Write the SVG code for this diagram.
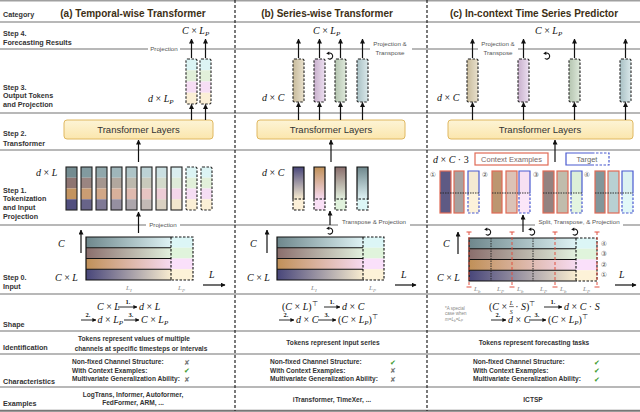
<svg xmlns="http://www.w3.org/2000/svg" xmlns:xlink="http://www.w3.org/1999/xlink" width="640" height="412" viewBox="0 0 640 412">
<defs>
<style>
.hl{stroke:#a0a0a0;stroke-width:1.5}
.vd{stroke:#222;stroke-width:1.2;stroke-dasharray:3 2}
.lab{font-family:"Liberation Sans",Arial,sans-serif;font-weight:bold;font-size:7.2px;fill:#333}
.hdr{font-family:"Liberation Sans",Arial,sans-serif;font-weight:bold;font-size:10px;fill:#3d2f15}
.m{font-family:"Liberation Serif","Times New Roman",serif;font-style:italic;font-size:10px;fill:#111}
.n{font-style:normal}
.sub{font-size:7px}
.sm{font-family:"Liberation Sans",Arial,sans-serif;font-size:6.2px;fill:#555}
.tl{font-family:"Liberation Sans",Arial,sans-serif;font-size:9.5px;fill:#333}
.b{font-family:"Liberation Sans",Arial,sans-serif;font-weight:bold;font-size:6.6px;fill:#333}
.num{font-family:"Liberation Serif",serif;font-weight:bold;font-size:6.5px;fill:#111}
.arr{stroke:#111;stroke-width:1.2;fill:none;marker-end:url(#ah)}
.arr2{stroke:#111;stroke-width:0.9;fill:none;marker-end:url(#ah2)}
.tf{fill:url(#gT);stroke:#e0b860;stroke-width:1}
.tok{stroke:#222;stroke-width:1.1;fill:none}
.dtok{stroke:#222;stroke-width:1.1;fill:none;stroke-dasharray:2.5 1.5}
.red{stroke:#e06a55;stroke-width:1.2;fill:none}
.blu{stroke:#4a5ad0;stroke-width:1.2;fill:none}
.bluD{stroke:#4a5ad0;stroke-width:1.2;fill:none;stroke-dasharray:2.5 1.5}
.dot{stroke:#222;stroke-width:0.9;stroke-dasharray:1.5 1}
.rdl{stroke:#e05040;stroke-width:1;stroke-dasharray:3 2}
.rt{stroke:#e05040;stroke-width:1}
.ck{font-family:"DejaVu Sans",sans-serif;font-size:7px;fill:#3a9a2a}
.cx{font-family:"DejaVu Sans",sans-serif;font-size:7px;fill:#777}
.cn{font-family:"DejaVu Sans","Noto Sans CJK SC",sans-serif;font-size:7px;fill:#555}
.gl{font-family:"Liberation Serif",serif;font-style:italic;font-size:7px;fill:#888}
</style>
<marker id="ah" viewBox="0 0 10 10" refX="9" refY="5" markerWidth="5" markerHeight="5" orient="auto" markerUnits="userSpaceOnUse"><path d="M0,0 L10,5 L0,10 z" fill="#111"/></marker>
<marker id="ah2" viewBox="0 0 10 10" refX="9" refY="5" markerWidth="4" markerHeight="4" orient="auto" markerUnits="userSpaceOnUse"><path d="M0,0 L10,5 L0,10 z" fill="#111"/></marker>
<linearGradient id="gT" x1="0" y1="0" x2="0" y2="1"><stop offset="0" stop-color="#fdf4d6"/><stop offset="1" stop-color="#fbe6ad"/></linearGradient>
<linearGradient id="gA" x1="0" y1="0" x2="1" y2="0"><stop offset="0" stop-color="#6e878c"/><stop offset="1" stop-color="#def2f4"/></linearGradient>
<linearGradient id="gB" x1="0" y1="0" x2="1" y2="0"><stop offset="0" stop-color="#8a6e6c"/><stop offset="1" stop-color="#e2f0de"/></linearGradient>
<linearGradient id="gC" x1="0" y1="0" x2="1" y2="0"><stop offset="0" stop-color="#c09058"/><stop offset="1" stop-color="#f6daf0"/></linearGradient>
<linearGradient id="gD" x1="0" y1="0" x2="1" y2="0"><stop offset="0" stop-color="#48467a"/><stop offset="1" stop-color="#f8ecd0"/></linearGradient>
<linearGradient id="vA" x1="0" y1="0" x2="0" y2="1"><stop offset="0" stop-color="#6e878c"/><stop offset="1" stop-color="#def2f4"/></linearGradient>
<linearGradient id="vB" x1="0" y1="0" x2="0" y2="1"><stop offset="0" stop-color="#8a6e6c"/><stop offset="1" stop-color="#e2f0de"/></linearGradient>
<linearGradient id="vC" x1="0" y1="0" x2="0" y2="1"><stop offset="0" stop-color="#c09058"/><stop offset="1" stop-color="#f6daf0"/></linearGradient>
<linearGradient id="vD" x1="0" y1="0" x2="0" y2="1"><stop offset="0" stop-color="#48467a"/><stop offset="1" stop-color="#f8ecd0"/></linearGradient>
<linearGradient id="o1" x1="0" y1="0" x2="1" y2="0"><stop offset="0" stop-color="#c8bb9c"/><stop offset="1" stop-color="#e8e0cc"/></linearGradient>
<linearGradient id="o2" x1="0" y1="0" x2="1" y2="0"><stop offset="0" stop-color="#c8b0cc"/><stop offset="1" stop-color="#ecdff0"/></linearGradient>
<linearGradient id="o3" x1="0" y1="0" x2="1" y2="0"><stop offset="0" stop-color="#b4c4b0"/><stop offset="1" stop-color="#dde8da"/></linearGradient>
<linearGradient id="o4" x1="0" y1="0" x2="1" y2="0"><stop offset="0" stop-color="#a8c0c4"/><stop offset="1" stop-color="#dae8ea"/></linearGradient>
<g id="rot"><path d="M-1.2,-2.8 A3,3 0 1 1 -2.2,2.4" fill="none" stroke="#111" stroke-width="1.1"/><path d="M-3.8,-2.6 L-0.8,-4.6 L-0.6,-1 z" fill="#111"/></g>
</defs>
<rect width="640" height="412" fill="#fff"/>

<g id="grid">
<line class="hl" x1="0" y1="0.8" x2="640" y2="0.8"/>
<line class="hl" x1="0" y1="22" x2="640" y2="22"/>
<line class="hl" x1="0" y1="49" x2="640" y2="49"/>
<line class="hl" x1="0" y1="113" x2="640" y2="113"/>
<line class="hl" x1="0" y1="150" x2="640" y2="150"/>
<line class="hl" x1="0" y1="225" x2="640" y2="225"/>
<line class="hl" x1="0" y1="294" x2="640" y2="294"/>
<line class="hl" x1="0" y1="331" x2="640" y2="331"/>
<line class="hl" x1="0" y1="354" x2="640" y2="354"/>
<line class="hl" x1="0" y1="387" x2="640" y2="387"/>
<line x1="0" y1="410.8" x2="640" y2="410.8" stroke="#777" stroke-width="2"/>
<line class="vd" x1="235" y1="0" x2="235" y2="411"/>
<line class="vd" x1="427" y1="0" x2="427" y2="411"/>
</g>

<g id="rowlabels">
<text class="lab" x="3" y="16.5">Category</text>
<text class="lab" x="3" y="35.5">Step 4.</text>
<text class="lab" x="3" y="44.5">Forecasting Results</text>
<text class="lab" x="3" y="89.5">Step 3.</text>
<text class="lab" x="3" y="98">Output Tokens</text>
<text class="lab" x="3" y="107">and Projection</text>
<text class="lab" x="3" y="135.5">Step 2.</text>
<text class="lab" x="3" y="145.5">Transformer</text>
<text class="lab" x="3" y="192.5">Step 1.</text>
<text class="lab" x="3" y="201">Tokenization</text>
<text class="lab" x="3" y="210">and Input</text>
<text class="lab" x="3" y="219">Projection</text>
<text class="lab" x="3" y="279.5">Step 0.</text>
<text class="lab" x="3" y="288.5">Input</text>
<text class="lab" x="3" y="326.5">Shape</text>
<text class="lab" x="3" y="349.5">Identification</text>
<text class="lab" x="3" y="383.5">Characteristics</text>
<text class="lab" x="3" y="405.5">Examples</text>
</g>

<g id="headers">
<text class="hdr" x="133" y="16.5" text-anchor="middle">(a) Temporal-wise Transformer</text>
<text class="hdr" x="327" y="16.5" text-anchor="middle">(b) Series-wise Transformer</text>
<text class="hdr" x="534" y="16.5" text-anchor="middle">(c) In-context Time Series Predictor</text>
</g>

<!-- Panel A -->
<g id="a-step4">
<text class="m" x="182" y="33.5">C <tspan class="n">×</tspan> L<tspan class="sub" dy="2">P</tspan></text>
<rect x="148" y="44" width="32" height="9" fill="#fff"/>
<text class="sm" x="164" y="50.5" text-anchor="middle">Projection</text>
</g>
<g id="a-step3">
<rect x="186" y="59" width="11" height="11.25" fill="#dcf4f4"/><rect x="186" y="70.25" width="11" height="11.25" fill="#e2f0da"/><rect x="186" y="81.5" width="11" height="11.25" fill="#f6def4"/><rect x="186" y="92.75" width="11" height="11.25" fill="#fbefd6"/>
<rect class="dtok" x="186" y="59" width="11" height="45" rx="1.5"/>
<rect x="200" y="59" width="11" height="11.25" fill="#dcf4f4"/><rect x="200" y="70.25" width="11" height="11.25" fill="#e2f0da"/><rect x="200" y="81.5" width="11" height="11.25" fill="#f6def4"/><rect x="200" y="92.75" width="11" height="11.25" fill="#fbefd6"/>
<rect class="dtok" x="200" y="59" width="11" height="45" rx="1.5"/>
<text class="m" x="148" y="101.5">d <tspan class="n">×</tspan> L<tspan class="sub" dy="2">P</tspan></text>
</g>
<g id="a-transformer">
<rect class="tf" x="64" y="120" width="149" height="19" rx="3"/>
<text class="tl" x="138.5" y="133" text-anchor="middle">Transformer Layers</text>
</g>
<g id="a-step1">
<text class="m" x="36" y="176">d <tspan class="n">×</tspan> L</text>
<rect x="66" y="167" width="11" height="10.75" fill="#748c91"/><rect x="66" y="177.75" width="11" height="10.75" fill="#8e7572"/><rect x="66" y="188.5" width="11" height="10.75" fill="#c39460"/><rect x="66" y="199.25" width="11" height="10.75" fill="#514e7e"/>
<rect x="81" y="167" width="11" height="10.75" fill="#829a9f"/><rect x="81" y="177.75" width="11" height="10.75" fill="#9a8581"/><rect x="81" y="188.5" width="11" height="10.75" fill="#ca9d73"/><rect x="81" y="199.25" width="11" height="10.75" fill="#686489"/>
<rect x="96" y="167" width="11" height="10.75" fill="#91a8ac"/><rect x="96" y="177.75" width="11" height="10.75" fill="#a5968f"/><rect x="96" y="188.5" width="11" height="10.75" fill="#d1a787"/><rect x="96" y="199.25" width="11" height="10.75" fill="#7f7995"/>
<rect x="111" y="167" width="11" height="10.75" fill="#9fb6ba"/><rect x="111" y="177.75" width="11" height="10.75" fill="#b1a79e"/><rect x="111" y="188.5" width="11" height="10.75" fill="#d8b19b"/><rect x="111" y="199.25" width="11" height="10.75" fill="#958fa0"/>
<rect x="126" y="167" width="11" height="10.75" fill="#aec4c7"/><rect x="126" y="177.75" width="11" height="10.75" fill="#bcb8ad"/><rect x="126" y="188.5" width="11" height="10.75" fill="#dfbaaf"/><rect x="126" y="199.25" width="11" height="10.75" fill="#aca5ab"/>
<rect x="141" y="167" width="11" height="10.75" fill="#bcd2d5"/><rect x="141" y="177.75" width="11" height="10.75" fill="#c8c9bc"/><rect x="141" y="188.5" width="11" height="10.75" fill="#e6c4c2"/><rect x="141" y="199.25" width="11" height="10.75" fill="#c3bab6"/>
<rect x="156" y="167" width="11" height="10.75" fill="#cbe0e2"/><rect x="156" y="177.75" width="11" height="10.75" fill="#d3dacb"/><rect x="156" y="188.5" width="11" height="10.75" fill="#edcdd6"/><rect x="156" y="199.25" width="11" height="10.75" fill="#dad0c1"/>
<rect x="171" y="167" width="11" height="10.75" fill="#daeef0"/><rect x="171" y="177.75" width="11" height="10.75" fill="#deebd9"/><rect x="171" y="188.5" width="11" height="10.75" fill="#f4d7ea"/><rect x="171" y="199.25" width="11" height="10.75" fill="#f1e5cd"/>
<rect class="tok" x="66" y="167" width="11" height="43"/><rect class="tok" x="81" y="167" width="11" height="43"/><rect class="tok" x="96" y="167" width="11" height="43"/><rect class="tok" x="111" y="167" width="11" height="43"/><rect class="tok" x="126" y="167" width="11" height="43"/><rect class="tok" x="141" y="167" width="11" height="43"/><rect class="tok" x="156" y="167" width="11" height="43"/><rect class="tok" x="171" y="167" width="11" height="43"/>
<rect x="186" y="167" width="11" height="10.75" fill="#dcf4f4"/><rect x="186" y="177.75" width="11" height="10.75" fill="#e2f0da"/><rect x="186" y="188.5" width="11" height="10.75" fill="#f6def4"/><rect x="186" y="199.25" width="11" height="10.75" fill="#fbefd6"/>
<rect class="dtok" x="186" y="167" width="11" height="43" rx="1.5"/>
<rect x="201" y="167" width="11" height="10.75" fill="#dcf4f4"/><rect x="201" y="177.75" width="11" height="10.75" fill="#e2f0da"/><rect x="201" y="188.5" width="11" height="10.75" fill="#f6def4"/><rect x="201" y="199.25" width="11" height="10.75" fill="#fbefd6"/>
<rect class="dtok" x="201" y="167" width="11" height="43" rx="1.5"/>
<rect x="146" y="220" width="34" height="9" fill="#fff"/>
<text class="sm" x="163" y="226.5" text-anchor="middle">Projection</text>
</g>
<g id="a-step0">
<rect x="86" y="237" width="85" height="10.75" fill="url(#gA)"/><rect x="86" y="247.75" width="85" height="10.75" fill="url(#gB)"/><rect x="86" y="258.5" width="85" height="10.75" fill="url(#gC)"/><rect x="86" y="269.25" width="85" height="10.75" fill="url(#gD)"/>
<rect x="171" y="237" width="22" height="10.75" fill="#dcf6f6"/><rect x="171" y="247.75" width="22" height="10.75" fill="#e0f4dc"/><rect x="171" y="258.5" width="22" height="10.75" fill="#fae0fa"/><rect x="171" y="269.25" width="22" height="10.75" fill="#fdf2d8"/>
<path d="M171,237 H86 V280 H171 M86,247.75 H171 M86,258.5 H171 M86,269.25 H171" fill="none" stroke="#111" stroke-width="1.2"/>
<path d="M171,237 V280 M171,237 H193 V280 H171" fill="none" stroke="#111" stroke-width="1.1" stroke-dasharray="2.5 1.5"/>
<text class="m" x="58" y="247">C</text>
<text class="m" x="55" y="281">C <tspan class="n">×</tspan> L</text>
<text class="gl" x="126" y="290">L<tspan font-size="5" dy="1.5">I</tspan></text>
<text class="gl" x="178" y="290">L<tspan font-size="5" dy="1.5">P</tspan></text>
<text class="m" x="209" y="278">L</text>
</g>

<!-- Panel B -->
<g id="b-step4">
<text class="m" x="313" y="33.5">C <tspan class="n">×</tspan> L<tspan class="sub" dy="2">P</tspan></text>
<rect x="370" y="39" width="42" height="18" fill="#fff"/>
<text class="sm" x="390" y="45.5" text-anchor="middle">Projection &amp;</text>
<text class="sm" x="390" y="54.5" text-anchor="middle">Transpose</text>
<use xlink:href="#rot" x="330" y="56"/>
</g>
<g id="b-step3">
<rect x="293" y="59" width="11" height="43" rx="1.5" fill="url(#o1)"/><rect class="dtok" x="293" y="59" width="11" height="43" rx="1.5"/>
<rect x="314" y="59" width="11" height="43" rx="1.5" fill="url(#o2)"/><rect class="dtok" x="314" y="59" width="11" height="43" rx="1.5"/>
<rect x="335" y="59" width="11" height="43" rx="1.5" fill="url(#o3)"/><rect class="dtok" x="335" y="59" width="11" height="43" rx="1.5"/>
<rect x="357" y="59" width="11" height="43" rx="1.5" fill="url(#o4)"/><rect class="dtok" x="357" y="59" width="11" height="43" rx="1.5"/>
<text class="m" x="262" y="100.5">d <tspan class="n">×</tspan> C</text>
</g>
<g id="b-transformer">
<rect class="tf" x="257" y="120" width="148" height="19" rx="3"/>
<text class="tl" x="331" y="133" text-anchor="middle">Transformer Layers</text>
</g>
<g id="b-step1">
<text class="m" x="262" y="176">d <tspan class="n">×</tspan> C</text>
<rect x="293" y="167" width="11" height="32" fill="url(#vD)"/><rect x="293" y="199" width="11" height="11" fill="#fcf0d8"/>
<rect x="314" y="167" width="11" height="32" fill="url(#vC)"/><rect x="314" y="199" width="11" height="11" fill="#fae0f6"/>
<rect x="335" y="167" width="11" height="32" fill="url(#vB)"/><rect x="335" y="199" width="11" height="11" fill="#e0f2dc"/>
<rect x="357" y="167" width="11" height="32" fill="url(#vA)"/><rect x="357" y="199" width="11" height="11" fill="#dcf6f6"/>
<path d="M293,199 V167 H304 V199 M314,199 V167 H325 V199 M335,199 V167 H346 V199 M357,199 V167 H368 V199" fill="none" stroke="#111" stroke-width="1.2"/>
<path d="M293,199 V210 H304 V199 Z M314,199 V210 H325 V199 Z M335,199 V210 H346 V199 Z M357,199 V210 H368 V199 Z" fill="none" stroke="#111" stroke-width="1.1" stroke-dasharray="2.5 1.5"/>
<rect x="338" y="217" width="72" height="9" fill="#fff"/>
<text class="sm" x="374" y="223.5" text-anchor="middle">Transpose &amp; Projection</text>
<use xlink:href="#rot" x="330" y="231"/>
</g>
<g id="b-step0">
<rect x="277" y="237" width="86" height="10.75" fill="url(#gA)"/><rect x="277" y="247.75" width="86" height="10.75" fill="url(#gB)"/><rect x="277" y="258.5" width="86" height="10.75" fill="url(#gC)"/><rect x="277" y="269.25" width="86" height="10.75" fill="url(#gD)"/>
<rect x="363" y="237" width="21" height="10.75" fill="#dcf6f6"/><rect x="363" y="247.75" width="21" height="10.75" fill="#e0f4dc"/><rect x="363" y="258.5" width="21" height="10.75" fill="#fae0fa"/><rect x="363" y="269.25" width="21" height="10.75" fill="#fdf2d8"/>
<path d="M363,237 H277 V280 H363 M277,247.75 H363 M277,258.5 H363 M277,269.25 H363" fill="none" stroke="#111" stroke-width="1.2"/>
<path d="M363,237 V280 M363,237 H384 V280 H363" fill="none" stroke="#111" stroke-width="1.1" stroke-dasharray="2.5 1.5"/>
<text class="m" x="250" y="247">C</text>
<text class="m" x="247" y="281">C <tspan class="n">×</tspan> L</text>
<text class="gl" x="311" y="290">L<tspan font-size="5" dy="1.5">I</tspan></text>
<text class="gl" x="369" y="290">L<tspan font-size="5" dy="1.5">P</tspan></text>
<text class="m" x="401" y="278">L</text>
</g>

<!-- Panel C -->
<g id="c-step4">
<text class="m" x="535" y="33.5">C <tspan class="n">×</tspan> L<tspan class="sub" dy="2">P</tspan></text>
<rect x="478" y="39" width="40" height="18" fill="#fff"/>
<text class="sm" x="498" y="45.5" text-anchor="middle">Projection &amp;</text>
<text class="sm" x="498" y="54.5" text-anchor="middle">Transpose</text>
<use xlink:href="#rot" x="547" y="56"/>
</g>
<g id="c-step3">
<rect x="467" y="59" width="11" height="43" rx="1.5" fill="url(#o1)"/><rect class="dtok" x="467" y="59" width="11" height="43" rx="1.5"/>
<rect x="518" y="59" width="11" height="43" rx="1.5" fill="url(#o2)"/><rect class="dtok" x="518" y="59" width="11" height="43" rx="1.5"/>
<rect x="569" y="59" width="11" height="43" rx="1.5" fill="url(#o3)"/><rect class="dtok" x="569" y="59" width="11" height="43" rx="1.5"/>
<rect x="620" y="59" width="11" height="43" rx="1.5" fill="url(#o4)"/><rect class="dtok" x="620" y="59" width="11" height="43" rx="1.5"/>
<text class="m" x="437" y="100.5">d <tspan class="n">×</tspan> C</text>
</g>
<g id="c-transformer">
<rect class="tf" x="448" y="120" width="185" height="19" rx="3"/>
<text class="tl" x="540" y="133" text-anchor="middle">Transformer Layers</text>
</g>
<g id="c-step1">
<text class="m" x="433" y="163">d <tspan class="n">×</tspan> C <tspan class="n">· 3</tspan></text>
<rect class="red" x="475" y="153" width="73" height="12"/>
<text x="511.5" y="161.8" text-anchor="middle" font-family="Liberation Sans, Arial, sans-serif" font-size="7.5" fill="#7a6666">Context Examples</text>
<path class="blu" d="M592,153 H566 V165 H592"/>
<path class="bluD" d="M592,153 H609 V165 H592"/>
<text x="587" y="161.8" text-anchor="middle" font-family="Liberation Sans, Arial, sans-serif" font-size="7.5" fill="#666">Target</text>
<text class="cn" x="433" y="176.5" text-anchor="middle">①</text>
<text class="cn" x="485" y="176.5" text-anchor="middle">②</text>
<text class="cn" x="536" y="176.5" text-anchor="middle">③</text>
<text class="cn" x="587" y="176.5" text-anchor="middle">④</text>
<rect x="440" y="171" width="11" height="42" fill="#5e5a84"/><rect x="454" y="171" width="10" height="42" fill="#a8a2a0"/><rect x="468" y="171" width="11" height="22" fill="#f4ead2"/><rect x="468" y="193" width="11" height="20" fill="#fcf2da"/>
<rect class="red" x="440" y="171" width="11" height="42"/><rect class="red" x="454" y="171" width="10" height="42"/>
<path class="blu" d="M468,193 V171 H479 V193"/><path class="bluD" d="M468,193 V213 H479 V193"/>
<line class="dot" x1="440" y1="193" x2="479" y2="193"/>
<rect x="492" y="171" width="10" height="42" fill="#bc9670"/><rect x="506" y="171" width="11" height="42" fill="#dcc2b6"/><rect x="519" y="171" width="11" height="22" fill="#f6e0f2"/><rect x="519" y="193" width="11" height="20" fill="#fbe6f8"/>
<rect class="red" x="492" y="171" width="10" height="42"/><rect class="red" x="506" y="171" width="11" height="42"/>
<path class="blu" d="M519,193 V171 H530 V193"/><path class="bluD" d="M519,193 V213 H530 V193"/>
<line class="dot" x1="492" y1="193" x2="530" y2="193"/>
<rect x="543" y="171" width="11" height="42" fill="#948280"/><rect x="557" y="171" width="11" height="42" fill="#c0bcac"/><rect x="571" y="171" width="11" height="22" fill="#dcefd8"/><rect x="571" y="193" width="11" height="20" fill="#e4f4e0"/>
<rect class="red" x="543" y="171" width="11" height="42"/><rect class="red" x="557" y="171" width="11" height="42"/>
<path class="blu" d="M571,193 V171 H582 V193"/><path class="bluD" d="M571,193 V213 H582 V193"/>
<line class="dot" x1="543" y1="193" x2="582" y2="193"/>
<rect x="595" y="171" width="10" height="42" fill="#82969a"/><rect x="608" y="171" width="11" height="42" fill="#b8d0d2"/><rect x="622" y="171" width="11" height="22" fill="#dcf2f2"/><rect x="622" y="193" width="11" height="20" fill="#e2f8f8"/>
<rect class="red" x="595" y="171" width="10" height="42"/><rect class="red" x="608" y="171" width="11" height="42"/>
<path class="blu" d="M622,193 V171 H633 V193"/><path class="bluD" d="M622,193 V213 H633 V193"/>
<line class="dot" x1="595" y1="193" x2="633" y2="193"/>
<rect x="535" y="217" width="88" height="9" fill="#fff"/>
<text class="sm" x="579" y="223.5" text-anchor="middle">Split, Transpose, &amp; Projection</text>
</g>
<g id="c-step0">
<rect x="469" y="238" width="107" height="10.75" fill="url(#gA)"/><rect x="469" y="248.75" width="107" height="10.75" fill="url(#gB)"/><rect x="469" y="259.5" width="107" height="10.75" fill="url(#gC)"/><rect x="469" y="270.25" width="107" height="10.75" fill="url(#gD)"/>
<rect x="576" y="238" width="21" height="10.75" fill="#dcf6f6"/><rect x="576" y="248.75" width="21" height="10.75" fill="#e0f4dc"/><rect x="576" y="259.5" width="21" height="10.75" fill="#fae0fa"/><rect x="576" y="270.25" width="21" height="10.75" fill="#fdf2d8"/>
<path d="M576,238 H469 V281 H576 M469,248.75 H576 M469,259.5 H576 M469,270.25 H576" fill="none" stroke="#111" stroke-width="1.2"/>
<path d="M576,238 V281 M576,238 H597 V281 H576" fill="none" stroke="#111" stroke-width="1.1" stroke-dasharray="2.5 1.5"/>
<line class="dot" x1="491" y1="238" x2="491" y2="281"/>
<line class="dot" x1="533" y1="238" x2="533" y2="281"/>
<line class="rdl" x1="469" y1="232" x2="469" y2="287"/><line class="rdl" x1="512" y1="232" x2="512" y2="287"/><line class="rdl" x1="555" y1="232" x2="555" y2="287"/><line class="rdl" x1="597" y1="232" x2="597" y2="287"/>
<path class="rt" d="M466.5,232 H471.5 M466.5,287 H471.5 M509.5,232 H514.5 M509.5,287 H514.5 M552.5,232 H557.5 M552.5,287 H557.5 M594.5,232 H599.5 M594.5,287 H599.5"/>
<use xlink:href="#rot" x="488" y="232"/>
<use xlink:href="#rot" x="532" y="232"/>
<use xlink:href="#rot" x="575" y="232"/>
<text class="cn" x="604" y="245.5" text-anchor="middle">④</text>
<text class="cn" x="604" y="256" text-anchor="middle">③</text>
<text class="cn" x="604" y="266.5" text-anchor="middle">②</text>
<text class="cn" x="604" y="277" text-anchor="middle">①</text>
<text class="m" x="443" y="247">C</text>
<text class="m" x="437" y="281">C <tspan class="n">×</tspan> L</text>
<text class="gl" x="474" y="291">L<tspan font-size="5" dy="1.5">b</tspan></text>
<text class="gl" x="497" y="291">L<tspan font-size="5" dy="1.5">P</tspan></text>
<text class="gl" x="517" y="291">L<tspan font-size="5" dy="1.5">b</tspan></text>
<text class="gl" x="540" y="291">L<tspan font-size="5" dy="1.5">P</tspan></text>
<text class="gl" x="560" y="291">L<tspan font-size="5" dy="1.5">b</tspan></text>
<text class="gl" x="583" y="291">L<tspan font-size="5" dy="1.5">P</tspan></text>
<text class="m" x="619" y="278">L</text>
</g>

<g id="connectors">
<line class="arr" x1="191.5" y1="58" x2="191.5" y2="39"/>
<line class="arr" x1="205.5" y1="58" x2="205.5" y2="39"/>
<line class="arr" x1="191.5" y1="120" x2="191.5" y2="104.5"/>
<line class="arr" x1="205.5" y1="120" x2="205.5" y2="104.5"/>
<line class="arr" x1="138.5" y1="162" x2="138.5" y2="140"/>
<line class="arr" x1="138.5" y1="233" x2="138.5" y2="212"/>
<line class="arr" x1="81" y1="253" x2="81" y2="230"/>
<line class="arr" x1="203" y1="285" x2="225" y2="285"/>
<line class="arr" x1="298.5" y1="58" x2="298.5" y2="39"/>
<line class="arr" x1="319.5" y1="58" x2="319.5" y2="39"/>
<line class="arr" x1="340.5" y1="58" x2="340.5" y2="39"/>
<line class="arr" x1="362.5" y1="58" x2="362.5" y2="39"/>
<line class="arr" x1="298.5" y1="120" x2="298.5" y2="102.5"/>
<line class="arr" x1="319.5" y1="120" x2="319.5" y2="102.5"/>
<line class="arr" x1="340.5" y1="120" x2="340.5" y2="102.5"/>
<line class="arr" x1="362.5" y1="120" x2="362.5" y2="102.5"/>
<line class="arr" x1="331" y1="162" x2="331" y2="140"/>
<line class="arr" x1="330" y1="225" x2="330" y2="211"/>
<line class="arr" x1="267" y1="253" x2="267" y2="230"/>
<line class="arr" x1="395" y1="285" x2="416" y2="285"/>
<line class="arr" x1="472.5" y1="58" x2="472.5" y2="39"/>
<line class="arr" x1="523.5" y1="58" x2="523.5" y2="39"/>
<line class="arr" x1="574.5" y1="58" x2="574.5" y2="39"/>
<line class="arr" x1="625.5" y1="58" x2="625.5" y2="39"/>
<line class="arr" x1="472.5" y1="120" x2="472.5" y2="102.5"/>
<line class="arr" x1="523.5" y1="120" x2="523.5" y2="102.5"/>
<line class="arr" x1="574.5" y1="120" x2="574.5" y2="102.5"/>
<line class="arr" x1="625.5" y1="120" x2="625.5" y2="102.5"/>
<line class="arr" x1="555" y1="162" x2="555" y2="140"/>
<line class="arr" x1="523" y1="232" x2="523" y2="215"/>
<line class="arr" x1="458" y1="254" x2="458" y2="232"/>
<line class="arr" x1="615" y1="285" x2="636" y2="285"/>
</g>

<g id="shape-a">
<text class="m" x="97" y="309.5">C <tspan class="n">×</tspan> L</text>
<line class="arr2" x1="118" y1="307" x2="137" y2="307"/><text class="num" x="128" y="303.5" text-anchor="middle">1.</text>
<text class="m" x="139" y="309.5">d <tspan class="n">×</tspan> L</text>
<line class="arr2" x1="81" y1="320" x2="96" y2="320"/><text class="num" x="88" y="316.5" text-anchor="middle">2.</text>
<text class="m" x="97.5" y="322.5">d <tspan class="n">×</tspan> L<tspan class="sub" dy="2">P</tspan></text>
<line class="arr2" x1="124" y1="320" x2="139" y2="320"/><text class="num" x="131" y="316.5" text-anchor="middle">3.</text>
<text class="m" x="141" y="322.5">C <tspan class="n">×</tspan> L<tspan class="sub" dy="2">P</tspan></text>
</g>
<g id="shape-b">
<text class="m" x="282" y="309.5"><tspan class="n">(</tspan>C <tspan class="n">×</tspan> L<tspan class="n">)</tspan><tspan class="n sub" dy="-3.5">⊤</tspan></text>
<line class="arr2" x1="324" y1="307" x2="340" y2="307"/><text class="num" x="332" y="303.5" text-anchor="middle">1.</text>
<text class="m" x="342" y="309.5">d <tspan class="n">×</tspan> C</text>
<line class="arr2" x1="279" y1="320" x2="294" y2="320"/><text class="num" x="286" y="316.5" text-anchor="middle">2.</text>
<text class="m" x="296" y="322.5">d <tspan class="n">×</tspan> C</text>
<line class="arr2" x1="318" y1="320" x2="336" y2="320"/><text class="num" x="327" y="316.5" text-anchor="middle">3.</text>
<text class="m" x="338" y="322.5"><tspan class="n">(</tspan>C <tspan class="n">×</tspan> L<tspan class="sub" dy="2">P</tspan><tspan class="n" dy="-2">)</tspan><tspan class="n sub" dy="-3.5">⊤</tspan></text>
</g>
<g id="shape-c">
<text x="445" y="309.5" font-family="Liberation Sans, Arial, sans-serif" font-size="4.5" fill="#888">*A special</text>
<text x="445" y="315" font-family="Liberation Sans, Arial, sans-serif" font-size="4.5" fill="#888">case when</text>
<text x="445" y="320.5" font-family="Liberation Sans, Arial, sans-serif" font-size="4.5" fill="#888" font-style="italic">m=L<tspan font-size="3.2" dy="1">b</tspan><tspan dy="-1">=L</tspan><tspan font-size="3.2" dy="1">P</tspan></text>
<text class="m" x="489" y="309.5"><tspan class="n">(</tspan>C <tspan class="n">×</tspan> <tspan font-size="6" dy="-5">L</tspan><tspan font-size="6" dx="-3.3" dy="9.3">S</tspan><tspan dx="2.5" dy="-4.3"><tspan class="n">·</tspan> S<tspan class="n">)</tspan><tspan class="n sub" dy="-3.5">⊤</tspan></tspan></text>
<line x1="509.2" y1="306.6" x2="513.8" y2="306.6" stroke="#111" stroke-width="0.6"/>
<line class="arr2" x1="544" y1="307" x2="562" y2="307"/><text class="num" x="553" y="303.5" text-anchor="middle">1.</text>
<text class="m" x="564" y="309.5">d <tspan class="n">×</tspan> C <tspan class="n">·</tspan> S</text>
<line class="arr2" x1="491" y1="320" x2="506" y2="320"/><text class="num" x="498" y="316.5" text-anchor="middle">2.</text>
<text class="m" x="508" y="322.5">d <tspan class="n">×</tspan> C</text>
<line class="arr2" x1="529" y1="320" x2="546" y2="320"/><text class="num" x="537" y="316.5" text-anchor="middle">3.</text>
<text class="m" x="548" y="322.5"><tspan class="n">(</tspan>C <tspan class="n">×</tspan> L<tspan class="sub" dy="2">P</tspan><tspan class="n" dy="-2">)</tspan><tspan class="n sub" dy="-3.5">⊤</tspan></text>
</g>

<g id="ident">
<text class="b" x="134" y="340.5" text-anchor="middle">Tokens represent values of multiple</text>
<text class="b" x="141" y="350.5" text-anchor="middle">channels at specific timesteps or intervals</text>
<text class="b" x="333" y="344.5" text-anchor="middle">Tokens represent input series</text>
<text class="b" x="534" y="344.5" text-anchor="middle">Tokens represent forecasting tasks</text>
</g>

<g id="chars">
<text class="b" x="72" y="364">Non-fixed Channel Structure:</text>
<text class="b" x="72" y="372.5">With Context Examples:</text>
<text class="b" x="72" y="381">Multivariate Generalization Ability:</text>
<text class="cx" x="187" y="364.5" text-anchor="middle">✘</text>
<text class="ck" x="187" y="373" text-anchor="middle">✔</text>
<text class="cx" x="187" y="381.5" text-anchor="middle">✘</text>
<text class="b" x="270" y="364">Non-fixed Channel Structure:</text>
<text class="b" x="270" y="372.5">With Context Examples:</text>
<text class="b" x="270" y="381">Multivariate Generalization Ability:</text>
<text class="ck" x="393" y="364.5" text-anchor="middle">✔</text>
<text class="cx" x="393" y="373" text-anchor="middle">✘</text>
<text class="cx" x="393" y="381.5" text-anchor="middle">✘</text>
<text class="b" x="473" y="364">Non-fixed Channel Structure:</text>
<text class="b" x="473" y="372.5">With Context Examples:</text>
<text class="b" x="473" y="381">Multivariate Generalization Ability:</text>
<text class="ck" x="597" y="364.5" text-anchor="middle">✔</text>
<text class="ck" x="597" y="373" text-anchor="middle">✔</text>
<text class="ck" x="597" y="381.5" text-anchor="middle">✔</text>
</g>

<g id="examples">
<text class="b" x="133" y="396.5" text-anchor="middle">LogTrans, Informer, Autoformer,</text>
<text class="b" x="133" y="405" text-anchor="middle">FedFormer, ARM, ...</text>
<text class="b" x="332" y="401.5" text-anchor="middle">iTransformer, TimeXer, ...</text>
<text class="b" x="533" y="401.5" text-anchor="middle">ICTSP</text>
</g>
</svg>
